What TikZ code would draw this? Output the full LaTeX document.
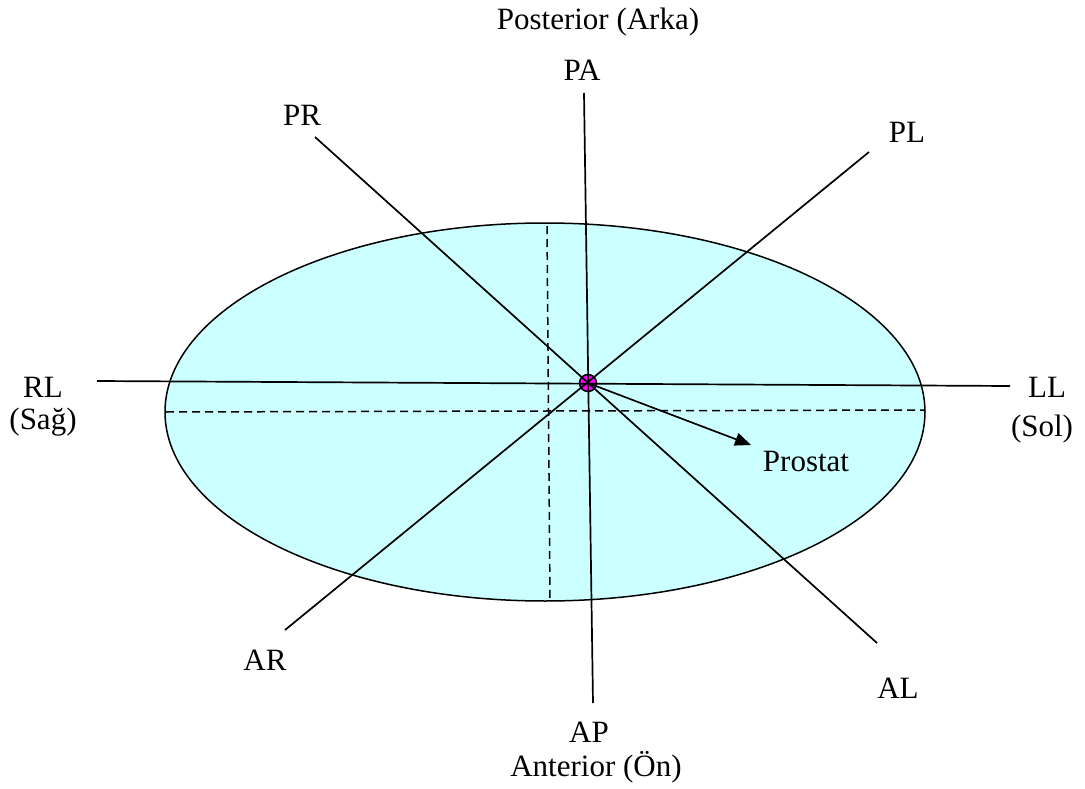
\documentclass[tikz,border=0pt]{standalone}
\usepackage{fontspec}
\setmainfont{Liberation Serif}
\usetikzlibrary{arrows.meta}
\definecolor{prostcyan}{HTML}{CCFFFF}
\definecolor{prostmag}{HTML}{FF00FF}
\tikzset{
  lbl/.style={font=\fontsize{31}{36}\selectfont, inner sep=0pt},
  axis/.style={line width=1.7pt, black},
  guide/.style={line width=1.5pt, black, dash pattern=on 8pt off 5pt},
}
\begin{document}
\begin{tikzpicture}[x=1pt,y=-1pt]
\useasboundingbox (0,0) rectangle (1085,789);
% prostate ellipse
\draw[line width=1.5pt, fill=prostcyan] (545,412) ellipse [x radius=380, y radius=189];
% dashed guides
\draw[guide] (547,226) -- (550,599);
\draw[guide] (166,412) -- (925,410);
% centre marker
\node[circle, draw, line width=1.5pt, fill=prostmag, minimum size=17pt, inner sep=0pt] (c) at (588,383) {};
% coordinates
\coordinate (pa) at (584,93);
\coordinate (ap) at (593,703);
\coordinate (pr) at (315,137);
\coordinate (al) at (877,643);
\coordinate (pl) at (869,152);
\coordinate (ar) at (285,630);
\coordinate (rl) at (97,381);
\coordinate (ll) at (1010,386);
\coordinate (tip) at (751,445);
% axes
\draw[axis] (pa) -- (ap);
\draw[axis] (pr) -- (al);
\draw[axis] (pl) -- (ar);
\draw[axis] (rl) -- (ll);
\draw[axis, -{Triangle[length=16pt,width=13pt]}] (c.center) -- (tip);
% labels
\node[lbl] (post) at (598,22) {Posterior (Arka)};
\node[lbl] (lpa) at (582,70) {PA};
\node[lbl] (lpr) at (302,115) {PR};
\node[lbl] (lpl) at (907,132) {PL};
\node[lbl] (lrl) at (43,387) {RL};
\node[lbl] (lsag) at (43,422) {(Sağ)};
\node[lbl] (lll) at (1047,387) {LL};
\node[lbl] (lsol) at (1042,429) {(Sol)};
\node[lbl] (lpros) at (806,462) {Prostat};
\node[lbl] (lar) at (265,660) {AR};
\node[lbl] (lal) at (898,688) {AL};
\node[lbl] (lap) at (589,732) {AP};
\node[lbl] (ant) at (596,767) {Anterior (Ön)};
\end{tikzpicture}
\end{document}
